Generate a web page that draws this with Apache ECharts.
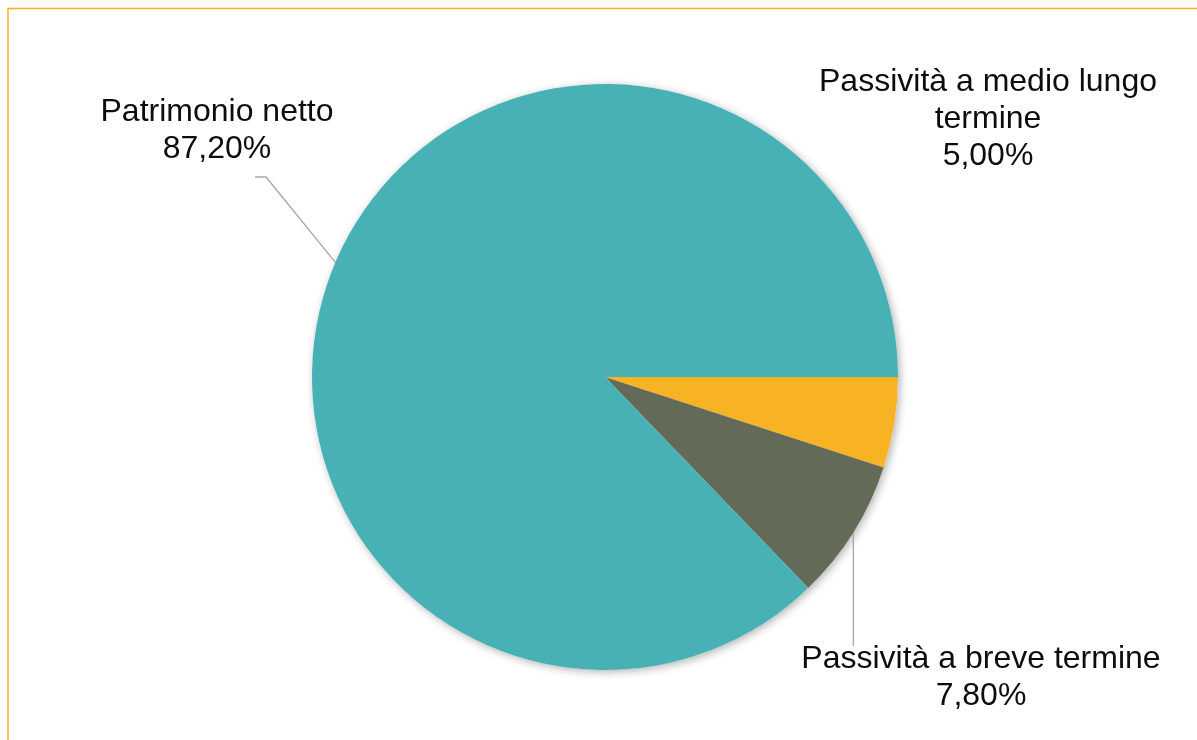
<!DOCTYPE html>
<html>
<head>
<meta charset="utf-8">
<script src="https://cdn.jsdelivr.net/npm/echarts@6/dist/echarts.min.js"></script>
<style>
html,body{margin:0;padding:0;background:#fff;}
#chart{width:1197px;height:740px;}
</style>
</head>
<body>
<div id="chart"></div>
<script>
const categories = ['Passività a medio lungo termine', 'Passività a breve termine', 'Patrimonio netto'];
const labelTexts = ['Passività a medio lungo\ntermine', 'Passività a breve termine', 'Patrimonio netto'];
const values = [5.0, 7.8, 87.2];
const colors = ['#F7B324', '#646A58', '#47B1B5'];

// label block centres (layout only)
const labelPos = [[988, 119], [981, 678], [217, 131]];

const chart = echarts.init(document.getElementById('chart'));
const fmt = v => v.toFixed(2).replace('.', ',') + '%';
const total = values.reduce((a, b) => a + b, 0);

const option = {
  animation: false,
  backgroundColor: '#ffffff',
  graphic: [{
    type: 'rect',
    shape: { x: 8, y: 8.5, width: 1400, height: 1000 },
    style: { fill: 'none', stroke: '#F5B120', lineWidth: 1.5 },
    silent: true
  }],
  series: [{
    // shadow disc beneath the slices
    type: 'pie',
    center: [605, 377],
    radius: [0, 293],
    silent: true,
    z: 1,
    label: { show: false },
    labelLine: { show: false },
    itemStyle: {
      color: '#ffffff',
      borderWidth: 0,
      shadowBlur: 9,
      shadowOffsetX: 2,
      shadowOffsetY: 2,
      shadowColor: 'rgba(0,0,0,0.3)'
    },
    data: [{ name: 'total', value: total }]
  }, {
    type: 'pie',
    center: [605, 377],
    radius: [0, 293],
    startAngle: 0,
    clockwise: true,
    z: 2,
    avoidLabelOverlap: false,
    itemStyle: { borderWidth: 0 },
    label: {
      show: true,
      position: 'outside',
      color: '#0d0d0d',
      fontFamily: 'Liberation Sans, Arial, sans-serif',
      fontSize: 32,
      lineHeight: 37,
      align: 'center',
      formatter: p => labelTexts[p.dataIndex] + '\n' + fmt(p.value)
    },
    labelLine: {
      show: true,
      lineStyle: { color: '#A6A6A6', width: 1.3 }
    },
    labelLayout: function (params) {
      const i = params.dataIndex;
      const p = labelPos[i];
      const res = { x: p[0], y: p[1], align: 'center', verticalAlign: 'middle' };
      const start = params.labelLinePoints ? params.labelLinePoints[0] : null;
      if (start) {
        if (i === 2) {
          const yEnd = p[1] + 46;
          res.labelLinePoints = [start, [p[0] + 49, yEnd], [p[0] + 38, yEnd]];
        } else if (i === 1) {
          const yEnd = p[1] - 32;
          res.labelLinePoints = [start, [start[0], yEnd], [start[0], yEnd]];
        }
      }
      return res;
    },
    data: categories.map((c, i) => ({
      name: c,
      value: values[i],
      itemStyle: { color: colors[i] },
      labelLine: { show: i !== 0 }
    }))
  }]
};
chart.setOption(option);
</script>
</body>
</html>
